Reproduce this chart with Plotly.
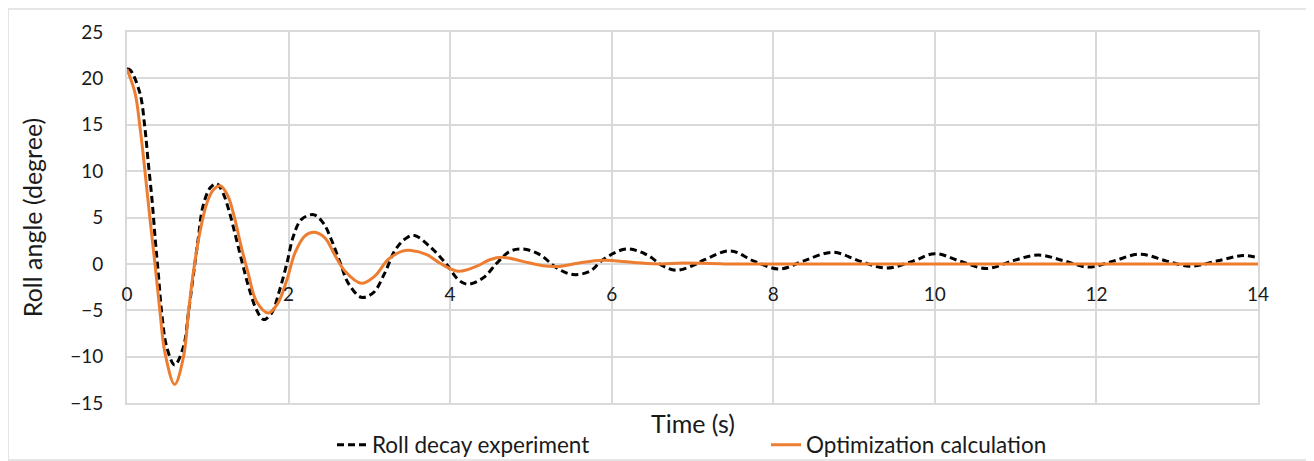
import plotly.graph_objects as go

# ---- data ----
t_exp = [0.00, 0.04, 0.16, 0.22, 0.26, 0.31, 0.35, 0.39, 0.43, 0.49, 0.59, 0.70, 0.76, 0.82,
         0.88, 0.94, 1.03, 1.11, 1.19, 1.27, 1.35, 1.43, 1.51, 1.60, 1.69, 1.79, 1.89, 1.98, 2.06,
         2.16, 2.31, 2.43, 2.53, 2.64, 2.74, 2.90, 3.05, 3.19, 3.32, 3.46, 3.56, 3.77, 3.96,
         4.10, 4.22, 4.41, 4.58, 4.74, 4.90, 5.11, 5.32, 5.52, 5.73, 5.89, 6.18, 6.43, 6.64,
         6.80, 7.01, 7.15, 7.47, 7.76, 8.08, 8.37, 8.74, 9.07, 9.40, 9.73, 10.00, 10.31, 10.64,
         10.97, 11.28, 11.59, 11.90, 12.21, 12.54, 12.87, 13.16, 13.49, 13.82, 14.00]
roll_exp = [21.0, 20.9, 18.4, 14.8, 11.2, 6.9, 2.6, -1.3, -5.3, -8.9, -10.9, -8.9, -5.3, -1.3,
            2.6, 6.2, 8.2, 8.65, 7.6, 5.5, 2.8, 0.0, -2.6, -4.9, -6.0, -5.3, -2.8, 0.1, 3.0,
            4.8, 5.3, 4.4, 2.6, 0.1, -2.1, -3.6, -3.1, -1.0, 1.5, 2.8, 3.05, 1.7, -0.1,
            -1.7, -2.2, -1.5, 0.1, 1.35, 1.6, 1.0, -0.45, -1.15, -0.8, 0.45, 1.6, 1.0, -0.25,
            -0.7, -0.15, 0.45, 1.4, 0.3, -0.55, 0.3, 1.25, 0.3, -0.45, 0.3, 1.1, 0.3, -0.5,
            0.35, 0.95, 0.35, -0.35, 0.3, 1.05, 0.3, -0.25, 0.3, 0.9, 0.65]

t_opt = [0.00, 0.10, 0.16, 0.22, 0.285, 0.35, 0.41, 0.47, 0.59, 0.70, 0.76, 0.82, 0.90, 0.99,
         1.07, 1.16, 1.25, 1.33, 1.41, 1.50, 1.60, 1.75, 1.87, 1.98, 2.08, 2.20, 2.32, 2.45, 2.57,
         2.70, 2.90, 3.07, 3.23, 3.40, 3.52, 3.71, 3.87, 4.10, 4.33, 4.49, 4.66, 4.90, 5.15,
         5.35, 5.60, 5.89, 6.27, 6.60, 6.88, 7.40, 8.50, 10.00, 11.50, 13.00, 14.00]
roll_opt = [21.0, 18.4, 14.8, 10.2, 4.8, -0.3, -5.3, -9.6, -13.0, -10.0, -5.3, -1.0, 3.3, 6.6,
            8.0, 8.4, 7.3, 5.0, 2.0, -1.0, -4.0, -5.3, -4.2, -1.7, 1.2, 3.0, 3.4, 2.8, 1.0,
            -0.8, -2.1, -1.3, 0.45, 1.35, 1.45, 1.0, 0.1, -0.8, -0.25, 0.45, 0.7, 0.27, -0.2,
            -0.27, 0.1, 0.38, 0.16, 0.0, 0.1, 0.0, 0.0, 0.0, 0.0, 0.0, 0.0]

x_ticks = [0, 2, 4, 6, 8, 10, 12, 14]
y_ticks = [-15, -10, -5, 0, 5, 10, 15, 20, 25]
x_range = [0, 14]
y_range = [-15, 25]

series_names = ["Roll decay experiment", "Optimization calculation"]
x_title = "Time (s)"
y_title = "Roll angle (degree)"

FONT = "Lato"
GRID = "#d9d9d9"
TXT = "#1a1a1a"

# page body adds an 8px offset; figure is sized so that it fills the window exactly
W, H = 1306, 453

fig = go.Figure()
fig.add_trace(go.Scatter(
    x=t_exp, y=roll_exp, mode="lines", name=series_names[0],
    line=dict(color="black", width=3, dash="7px,4px", shape="spline"),
    xaxis="x", yaxis="y"))
fig.add_trace(go.Scatter(
    x=t_opt, y=roll_opt, mode="lines", name=series_names[1],
    line=dict(color="#ED7D31", width=3, shape="spline"),
    xaxis="x2", yaxis="y"))

zero_pos = (0 - y_range[0]) / (y_range[1] - y_range[0])

fig.update_layout(
    width=W, height=H,
    margin=dict(l=119, r=56, t=24, b=58),
    paper_bgcolor="white", plot_bgcolor="white",
    font=dict(family=FONT, size=19, color=TXT),
    xaxis=dict(
        range=x_range, tickvals=x_ticks, showticklabels=False,
        showgrid=True, gridcolor=GRID, gridwidth=2,
        showline=True, linecolor=GRID, linewidth=2, mirror=True,
        zeroline=False, ticks="", automargin=False,
    ),
    xaxis2=dict(
        overlaying="x", matches="x", anchor="free", position=zero_pos, side="bottom",
        range=x_range, tickvals=x_ticks, showgrid=False, showline=False,
        zeroline=False, ticks="", ticklabelstandoff=17, automargin=False,
        tickfont=dict(size=19, color=TXT),
    ),
    yaxis=dict(
        range=y_range, tickvals=y_ticks,
        showgrid=True, gridcolor=GRID, gridwidth=2,
        showline=True, linecolor=GRID, linewidth=2, mirror=True,
        zeroline=False, ticks="", ticklabelstandoff=18, automargin=False,
        tickfont=dict(size=19, color=TXT),
        title=dict(text=y_title, font=dict(size=25, color=TXT), standoff=20),
    ),
    legend=dict(
        orientation="h", xref="container", yref="container",
        x=(332 - 8) / W, y=1 - (445 - 8) / H, xanchor="left", yanchor="middle",
        font=dict(size=22.5, color=TXT), entrywidth=389, bgcolor="rgba(0,0,0,0)",
        traceorder="normal",
    ),
    showlegend=True,
)

# x-axis title placed below the plot area, as in the reference
fig.add_annotation(text=x_title, xref="paper", yref="paper", x=0.5, y=-0.054,
                   xanchor="center", yanchor="middle", showarrow=False,
                   font=dict(size=25, color=TXT, family=FONT))

# light outer chart border (Excel chart area frame)
fig.add_shape(type="rect", xref="paper", yref="paper",
              x0=-0.1052, x1=1.0433, y0=-0.1536, y1=1.062,
              line=dict(color="#dedede", width=1.5), fillcolor="rgba(0,0,0,0)",
              layer="below")

fig.write_html("out.html")
